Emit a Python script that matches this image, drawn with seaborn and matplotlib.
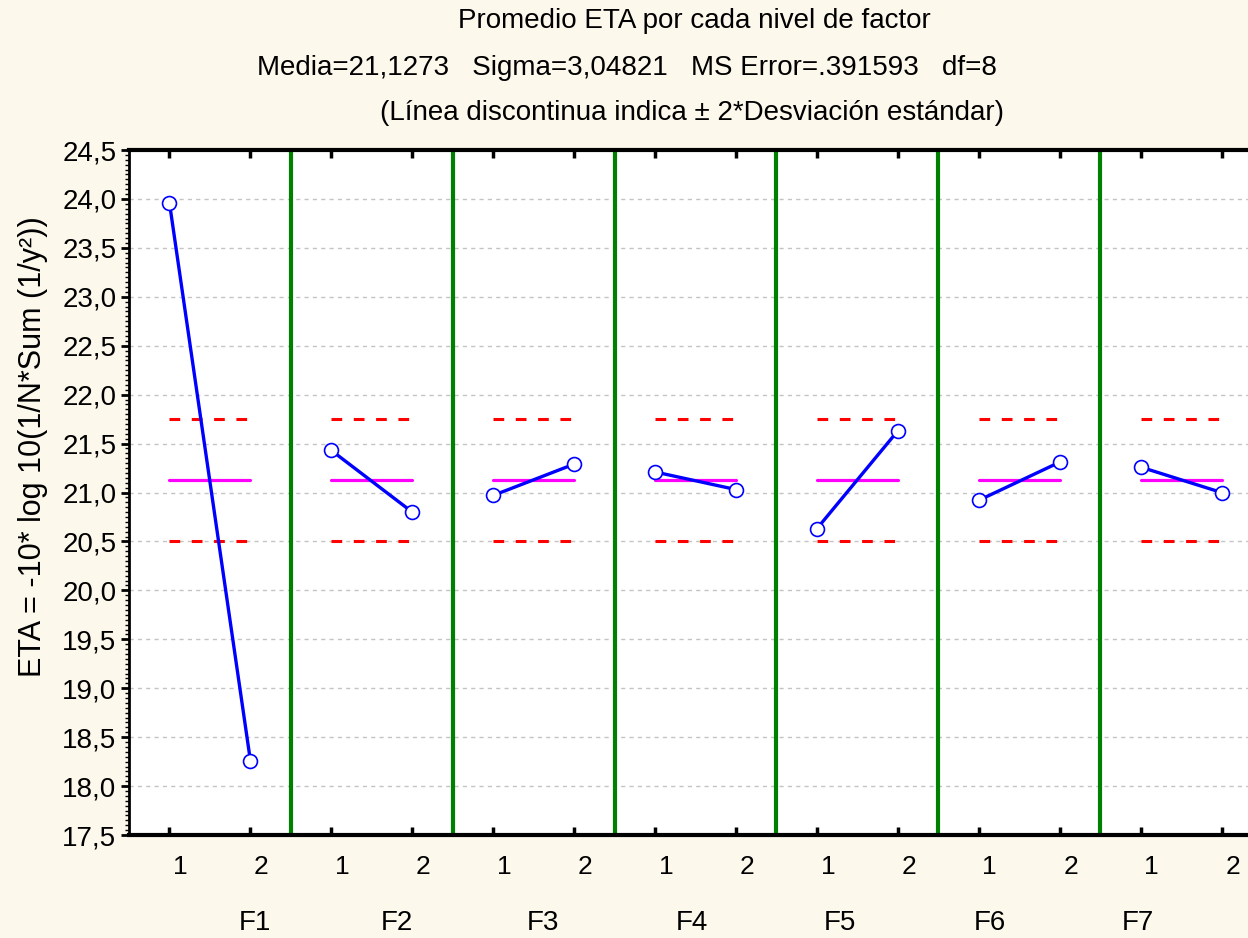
import numpy as np
import pandas as pd
import matplotlib
matplotlib.use("Agg")
import matplotlib.pyplot as plt
import matplotlib.transforms as mtransforms
from matplotlib.ticker import MultipleLocator, FixedLocator, FuncFormatter
import seaborn as sns

# Mean ETA for each level of the seven factors
factors = ["F1", "F2", "F3", "F4", "F5", "F6", "F7"]
levels = [1, 2]
eta_level1 = [23.96, 21.43, 20.97, 21.21, 20.63, 20.92, 21.26]
eta_level2 = [18.26, 20.80, 21.29, 21.03, 21.63, 21.31, 21.00]

grand_mean = 21.1273
sigma = 3.04821
ms_error = 0.391593
df_error = 8
n_per_level = 4

y_ticks = [17.5, 18.0, 18.5, 19.0, 19.5, 20.0, 20.5, 21.0, 21.5, 22.0, 22.5, 23.0, 23.5, 24.0, 24.5]

sns.set_theme(style="white")
plt.rcParams["font.family"] = ["Liberation Sans", "DejaVu Sans"]
plt.rcParams["text.color"] = "black"
plt.rcParams["xtick.color"] = "black"
plt.rcParams["ytick.color"] = "black"
plt.rcParams["xtick.labelcolor"] = "black"
plt.rcParams["ytick.labelcolor"] = "black"

BG = "#FDF8EC"
fig = plt.figure(figsize=(12.48, 9.38), dpi=100, facecolor=BG)
W, H = 1248, 938
x0, x1, ytop, ybot = 129, 1262, 150, 835
ax = fig.add_axes([x0 / W, 1 - ybot / H, (x1 - x0) / W, (ybot - ytop) / H])
ax.set_facecolor("white")

# long table: each factor occupies a 2-unit panel, levels at +0.5 and +1.5
rows = []
for i, f in enumerate(factors):
    for lv, val in zip(levels, (eta_level1[i], eta_level2[i])):
        rows.append({"factor": f, "level": lv, "pos": 2 * i + lv - 0.5, "eta": val})
data = pd.DataFrame(rows)

# light dashed grid
for yv in y_ticks:
    ax.axhline(yv, color="#C4C4C4", lw=1, ls=(0, (3, 3)), zorder=0)

# panel separators
for i in range(1, len(factors)):
    ax.axvline(2 * i, color="#008000", lw=3, zorder=1)

# grand mean and +/- 2 standard-error limits inside each panel
half = 2 * np.sqrt(ms_error / n_per_level)
for i in range(len(factors)):
    xa, xb = 2 * i + 0.5, 2 * i + 1.5
    ax.plot([xa, xb], [grand_mean, grand_mean], color="#FF00FF", lw=2.3, zorder=2)
    for yl in (grand_mean + half, grand_mean - half):
        ax.plot([xa, xb], [yl, yl], color="#FF0000", lw=2.2,
                dashes=(3.5, 3.8), zorder=2, solid_capstyle="butt")

sns.lineplot(data=data, x="pos", y="eta", units="factor", estimator=None,
             color="#0000FF", lw=2.4, marker="o", markersize=10,
             markerfacecolor="white", markeredgecolor="#0000FF",
             markeredgewidth=1.2, ax=ax, zorder=3, legend=False)

ax.set_xlim(0, 2 * len(factors))
ax.set_ylim(17.5, 24.5)
ax.set_xlabel("")
ax.set_ylabel("")

# ticks
ax.yaxis.set_major_locator(FixedLocator(y_ticks))
ax.yaxis.set_minor_locator(MultipleLocator(0.05))
ax.yaxis.set_major_formatter(FuncFormatter(lambda v, p: f"{v:.1f}".replace(".", ",")))
ax.tick_params(axis="y", which="major", direction="out", length=6, width=2,
               color="black", labelsize=20, pad=3, left=True)
ax.tick_params(axis="y", which="minor", direction="out", length=3, width=1,
               color="black", left=True)
level_pos = sorted(data["pos"].unique())
ax.set_xticks(level_pos)
ax.set_xticklabels([])
ax.tick_params(axis="x", which="major", direction="in", length=6, width=2.5,
               color="black", top=True, bottom=True)

for side in ("left", "bottom", "top", "right"):
    ax.spines[side].set_color("black")
ax.spines["left"].set_linewidth(2)
ax.spines["bottom"].set_linewidth(3)
ax.spines["top"].set_linewidth(3)
ax.spines["right"].set_visible(False)

# level labels under each panel
tr = ax.get_xaxis_transform()
shift = mtransforms.ScaledTranslation(11 / 100, -32 / 100, fig.dpi_scale_trans)
for _, r in data.iterrows():
    ax.text(r["pos"], 0, str(r["level"]), transform=tr + shift,
            ha="center", va="center", fontsize=19, color="black")

# factor names
factor_label_x = [255, 397, 543, 692, 840, 990, 1138]
for f, px in zip(factors, factor_label_x):
    fig.text(px / W, 1 - 923 / H, f, ha="center", va="center", fontsize=20, color="black")

fig.text(33 / W, 1 - 447 / H, "ETA = -10* log 10(1/N*Sum (1/y²))", rotation=90,
         ha="center", va="center", fontsize=22, color="black")

title_font = ["Liberation Sans Narrow", "Liberation Sans", "DejaVu Sans"]
fig.text(694 / W, 1 - 21 / H, "Promedio ETA por cada nivel de factor",
         ha="center", va="center", fontsize=20, family=title_font)
fig.text(627 / W, 1 - 68 / H,
         f"Media={grand_mean:.4f}".replace(".", ",")
         + f"   Sigma={sigma:.5f}".replace(".", ",")
         + f"   MS Error=.{str(ms_error).split('.')[1]}   df={df_error}",
         ha="center", va="center", fontsize=20, family=title_font)
fig.text(692 / W, 1 - 113 / H, "(Línea discontinua indica ± 2*Desviación estándar)",
         ha="center", va="center", fontsize=20, family=title_font)

fig.savefig("out.png", dpi=100, facecolor=BG)
